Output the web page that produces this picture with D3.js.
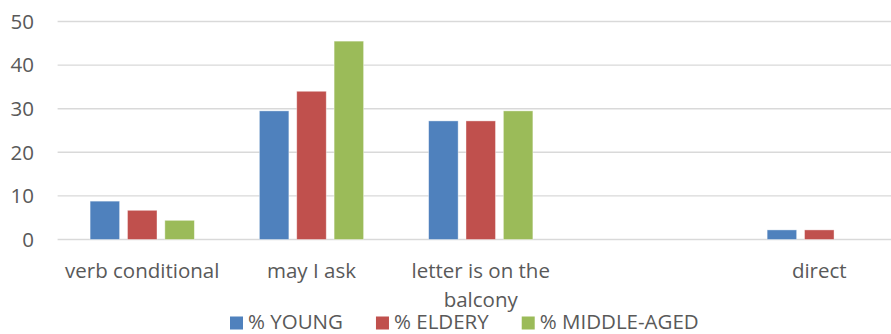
<!DOCTYPE html>
<html>
<head>
<meta charset="utf-8">
<script src="https://cdn.jsdelivr.net/npm/d3@7"></script>
<style>
  html, body { margin: 0; padding: 0; background: #fff; overflow: hidden; }
  svg { display: block; }
  text { font-family: "Open Sans", sans-serif; fill: #595959; }
</style>
</head>
<body>
<svg id="chart" width="891" height="334"></svg>
<script>
// Request strategies by age group (percent)
const categories = ["verb conditional", "may I ask", "letter is on the balcony", "", "direct"];
const seriesNames = ["% YOUNG", "% ELDERY", "% MIDDLE-AGED"];
const young = [8.8, 29.5, 27.2, 0, 2.2];
const eldery = [6.7, 34.0, 27.2, 0, 2.2];
const middleAged = [4.4, 45.5, 29.5, 0, 0];
const yTicks = [0, 10, 20, 30, 40, 50];
const colors = ["#4F81BD", "#C0504D", "#9BBB59"];

const seriesValues = [young, eldery, middleAged];

const svg = d3.select("#chart");
const fontSize = 20.5;

const x0 = d3.scaleBand()
  .domain(d3.range(categories.length))
  .range([57.6, 903.9])
  .paddingInner(0.384)
  .paddingOuter(0.192);

const x1 = d3.scaleBand()
  .domain(d3.range(seriesNames.length))
  .range([0, x0.bandwidth()])
  .paddingInner(0.21)
  .paddingOuter(0);

const y = d3.scaleLinear().domain([0, 50]).range([239.5, 21.5]);

// horizontal gridlines
svg.append("g")
  .selectAll("line")
  .data(yTicks)
  .join("line")
  .attr("x1", 57.6)
  .attr("x2", 903.9)
  .attr("y1", d => y(d))
  .attr("y2", d => y(d))
  .attr("stroke", "#D9D9D9")
  .attr("stroke-width", 1.4);

// y tick labels
svg.append("g")
  .selectAll("text")
  .data(yTicks)
  .join("text")
  .attr("x", 34)
  .attr("y", d => y(d))
  .attr("dy", "0.36em")
  .attr("text-anchor", "end")
  .style("font-size", fontSize + "px")
  .text(d => d);

// bars
const groups = svg.append("g")
  .selectAll("g")
  .data(categories.map((c, i) => i))
  .join("g")
  .attr("transform", i => `translate(${x0(i)},0)`);

groups.selectAll("rect")
  .data(i => seriesValues.map((vals, s) => ({ s, v: vals[i] })).filter(d => d.v > 0))
  .join("rect")
  .attr("x", d => x1(d.s))
  .attr("width", x1.bandwidth())
  .attr("y", d => y(d.v))
  .attr("height", d => y(0) - y(d.v))
  .attr("fill", d => colors[d.s])
  .attr("stroke", "#ffffff")
  .attr("stroke-opacity", 0.5)
  .attr("stroke-width", 0.8);

// category labels, wrapped to the band width
const maxLabelWidth = x0.step() * 0.95;
const lineHeight = 29;
svg.append("g")
  .selectAll("text")
  .data(categories.map((c, i) => ({ c, i })))
  .join("text")
  .attr("text-anchor", "middle")
  .style("font-size", fontSize + "px")
  .each(function(d) {
    const el = d3.select(this);
    const cx = x0(d.i) + x0.bandwidth() / 2;
    const words = d.c.split(" ").filter(w => w.length);
    let line = [];
    let lineNo = 0;
    let tspan = el.append("tspan").attr("x", cx).attr("y", 277.7);
    words.forEach(w => {
      line.push(w);
      tspan.text(line.join(" "));
      if (tspan.node().getComputedTextLength() > maxLabelWidth && line.length > 1) {
        line.pop();
        tspan.text(line.join(" "));
        line = [w];
        lineNo++;
        tspan = el.append("tspan").attr("x", cx).attr("y", 277.7 + lineNo * lineHeight).text(w);
      }
    });
  });

// legend
const legend = svg.append("g");
let lx = 230;
seriesNames.forEach((name, s) => {
  legend.append("rect")
    .attr("x", lx)
    .attr("y", 316.5)
    .attr("width", 13)
    .attr("height", 13)
    .attr("fill", colors[s]);
  const t = legend.append("text")
    .attr("x", lx + 18)
    .attr("y", 328.5)
    .style("font-size", fontSize + "px")
    .text(name);
  lx += 18 + t.node().getComputedTextLength() + 33;
});
</script>
</body>
</html>
